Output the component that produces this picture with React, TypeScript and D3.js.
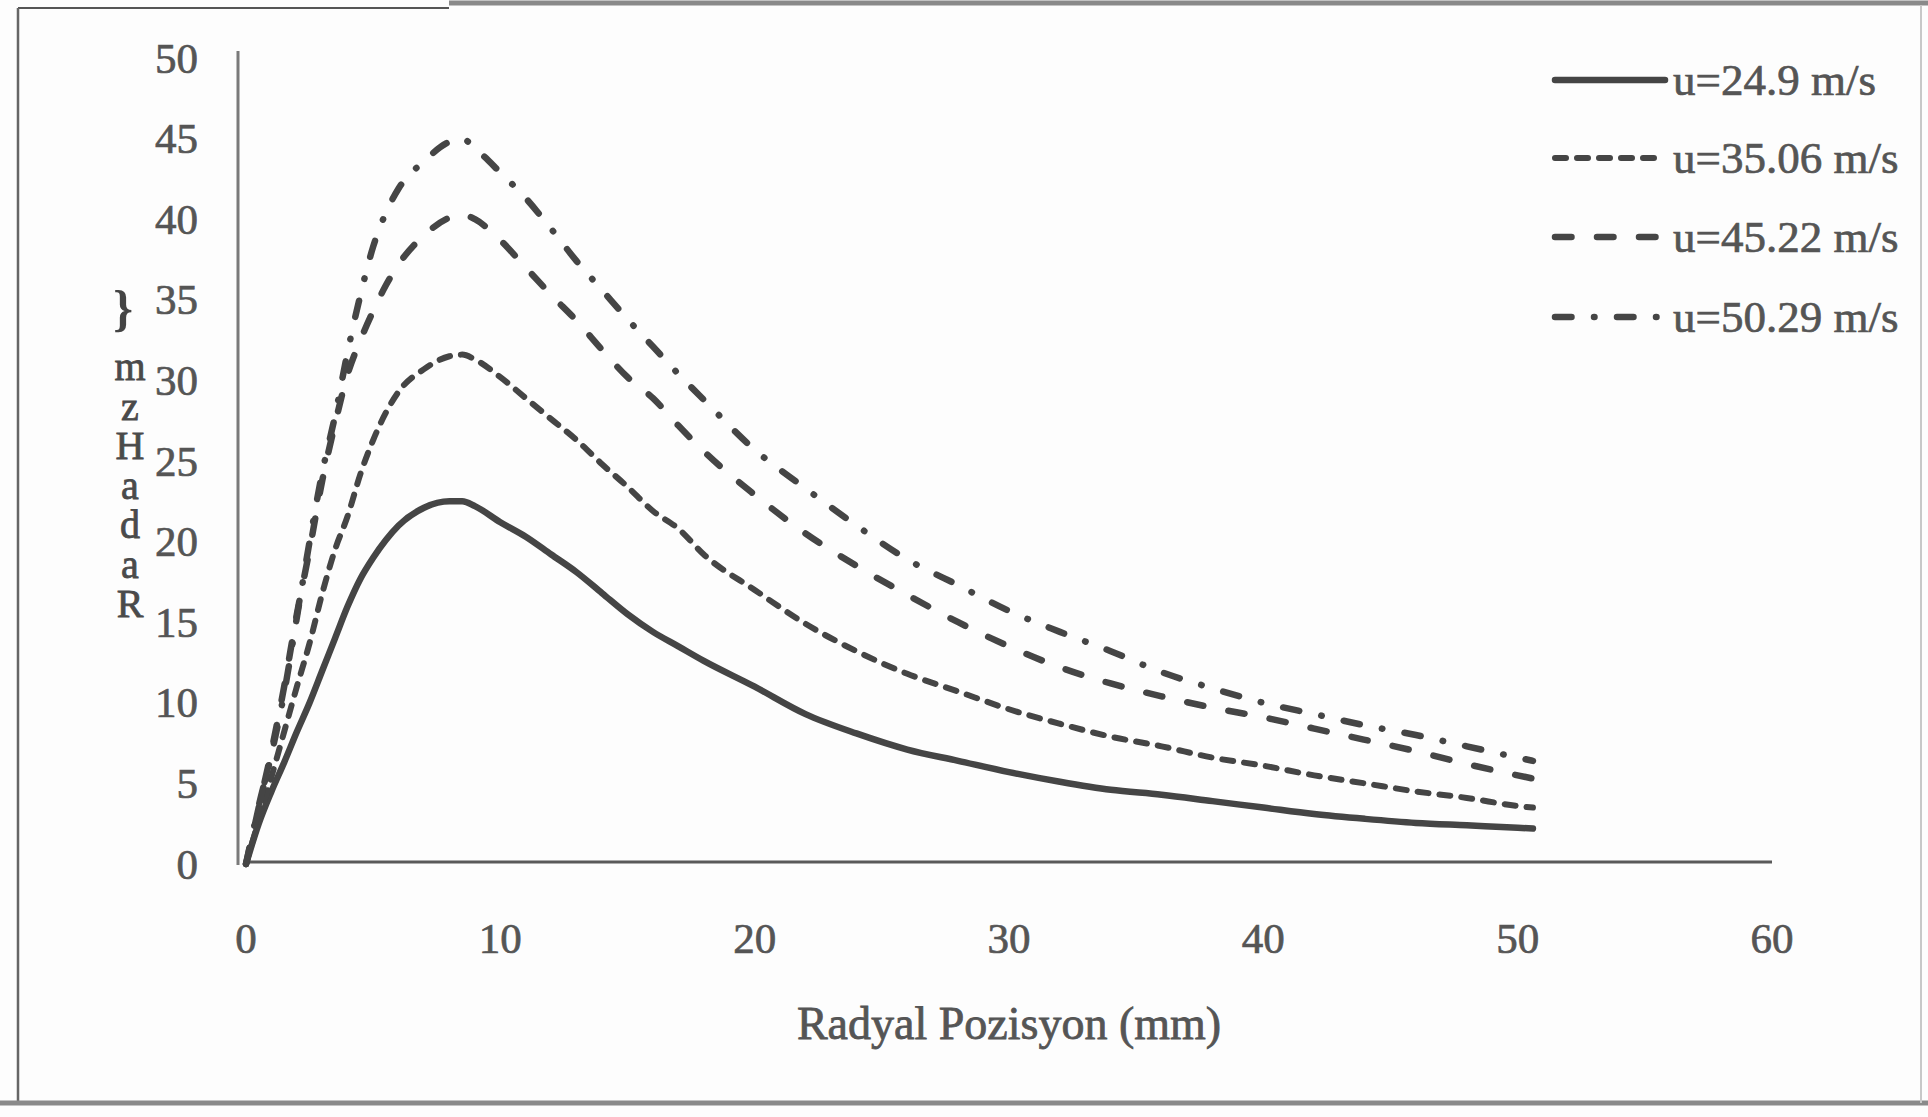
import React from "react";
import * as d3 from "d3";

// Radial position (mm) shared by every series
const radialPos = [0, 0.5, 1, 1.5, 2, 2.5, 3, 3.5, 4, 4.5, 5, 5.5, 6, 7, 8, 8.5, 9, 10, 11, 12, 13, 14, 15, 16, 17, 18, 20, 22, 24, 26, 28, 30, 32, 34, 36, 38, 40, 42, 44, 46, 48, 50, 50.6];

// Radial velocity (m/s) for each inlet velocity
const u249 = [0, 2.5, 4.5, 6.3, 8.2, 10.0, 12.0, 14.0, 16.0, 17.7, 19.0, 20.1, 21.0, 22.1, 22.5, 22.5, 22.2, 21.2, 20.3, 19.2, 18.1, 16.8, 15.5, 14.4, 13.5, 12.6, 11.0, 9.3, 8.1, 7.1, 6.4, 5.7, 5.1, 4.6, 4.3, 3.9, 3.5, 3.1, 2.8, 2.55, 2.4, 2.25, 2.2];
const u3506 = [0, 2.7, 5.4, 8.2, 11.0, 13.7, 16.8, 19.5, 21.6, 24.2, 26.3, 28.0, 29.3, 30.7, 31.5, 31.6, 31.3, 30.2, 28.9, 27.6, 26.3, 24.8, 23.4, 21.9, 20.8, 19.2, 17.0, 14.9, 13.2, 11.8, 10.7, 9.6, 8.7, 7.9, 7.3, 6.6, 6.1, 5.5, 5.0, 4.5, 4.1, 3.6, 3.5];
const u4522 = [0, 3.5, 7.0, 11.0, 15.5, 19.5, 23.8, 27.3, 30.4, 32.5, 34.3, 35.9, 37.2, 39.0, 40.1, 40.3, 40.0, 38.7, 37.0, 35.3, 33.7, 31.9, 30.2, 28.9, 27.2, 25.6, 22.9, 20.5, 18.5, 16.7, 15.0, 13.5, 12.2, 11.2, 10.4, 9.7, 9.1, 8.4, 7.7, 7.0, 6.2, 5.5, 5.3];
const u5029 = [0, 3.6, 6.8, 10.6, 15.3, 20.0, 24.3, 27.8, 31.8, 35.3, 38.3, 40.4, 41.9, 43.6, 44.8, 45.0, 44.4, 42.9, 41.3, 39.4, 37.4, 35.6, 33.8, 32.1, 30.4, 28.8, 25.7, 23.3, 21.0, 18.9, 17.3, 15.7, 14.4, 13.2, 11.9, 10.9, 10.0, 9.3, 8.6, 8.0, 7.3, 6.6, 6.4];

const seriesLabels = ["u=24.9 m/s", "u=35.06 m/s", "u=45.22 m/s", "u=50.29 m/s"];
const seriesValues = [u249, u3506, u4522, u5029];

const xTicks = [0, 10, 20, 30, 40, 50, 60];
const yTicks = [0, 5, 10, 15, 20, 25, 30, 35, 40, 45, 50];

const xTitle = "Radyal Pozisyon (mm)";
const yTitle = "mzHadaR";

const INK = "#454545";
const TEXT = "#555555";
const FONT = "'Liberation Serif', 'DejaVu Serif', serif";

// stroke styles: solid, short dashes, long dashes, dash-dot
const strokeStyles = [
  { width: 6.5, dash: "" },
  { width: 6, dash: "11 11" },
  { width: 6.5, dash: "16.5 25.5" },
  { width: 6.5, dash: "16.5 22.5 0.5 22.5" },
];

export default function App() {
  const W = 1928;
  const H = 1117;

  const x = d3.scaleLinear().domain([0, 60]).range([246, 1772]);
  const y = d3.scaleLinear().domain([0, 50]).range([864, 58]);

  const line = d3
    .line<number>()
    .x((_, i) => x(radialPos[i]))
    .y((d) => y(d))
    .curve(d3.curveMonotoneX);

  const legendX0 = 1555;
  const legendX1 = 1665;
  const legendRows = [80, 158, 237, 317];

  return (
    <svg
      width={W}
      height={H}
      viewBox={`0 0 ${W} ${H}`}
      style={{ position: "absolute", left: 0, top: 0, background: "#fdfdfd" }}
    >
      <rect x={0} y={0} width={W} height={H} fill="#fdfdfd" />

      {/* outer frame */}
      <line x1={18} y1={8} x2={449} y2={8} stroke="#555" strokeWidth={2} />
      <line x1={449} y1={3} x2={W} y2={3} stroke="#8a8a8a" strokeWidth={5} />
      <line x1={18} y1={8} x2={18} y2={1103} stroke="#666" strokeWidth={2.5} />
      <line x1={0} y1={1103} x2={W} y2={1103} stroke="#8a8a8a" strokeWidth={5} />
      <line x1={1921} y1={5} x2={1921} y2={1103} stroke="#c8c8c8" strokeWidth={2} />

      {/* axes */}
      <line x1={x(0) - 8} y1={51} x2={x(0) - 8} y2={y(0) + 1} stroke="#7a7a7a" strokeWidth={3} />
      <line x1={x(0)} y1={y(0) - 2} x2={x(60)} y2={y(0) - 2} stroke="#5a5a5a" strokeWidth={3} />

      {/* y tick labels */}
      {yTicks.map((t) => (
        <text
          key={`y${t}`}
          x={198}
          y={y(t)}
          textAnchor="end"
          dominantBaseline="central"
          fontFamily={FONT}
          fontSize={43}
          fill={TEXT}
          stroke={TEXT}
          strokeWidth={0.7}
        >
          {t}
        </text>
      ))}

      {/* x tick labels */}
      {xTicks.map((t) => (
        <text
          key={`x${t}`}
          x={x(t)}
          y={938}
          textAnchor="middle"
          dominantBaseline="central"
          fontFamily={FONT}
          fontSize={43}
          fill={TEXT}
          stroke={TEXT}
          strokeWidth={0.7}
        >
          {t}
        </text>
      ))}

      {/* x axis title */}
      <text
        x={x(30)}
        y={1023}
        textAnchor="middle"
        dominantBaseline="central"
        fontFamily={FONT}
        fontSize={46}
        fill={TEXT}
        stroke={TEXT}
        strokeWidth={0.8}
      >
        {xTitle}
      </text>

      {/* y axis title: bracket mark and upright stacked letters */}
      <text
        x={123}
        y={308}
        textAnchor="middle"
        dominantBaseline="central"
        fontFamily={FONT}
        fontSize={50}
        fontWeight="bold"
        fill="#444"
      >
        {"}"}
      </text>
      <text
        x={130}
        y={344}
        fontFamily={FONT}
        fontSize={40}
        fill="#4a4a4a"
        stroke="#4a4a4a"
        strokeWidth={0.8}
        letterSpacing={-5.5}
        style={{ writingMode: "vertical-rl", textOrientation: "upright" } as React.CSSProperties}
      >
        {yTitle}
      </text>

      {/* series */}
      {seriesValues.map((vals, i) => (
        <path
          key={`s${i}`}
          d={line(vals) || ""}
          fill="none"
          stroke={INK}
          strokeWidth={strokeStyles[i].width}
          strokeDasharray={strokeStyles[i].dash || undefined}
          strokeLinecap="round"
          strokeLinejoin="round"
        />
      ))}

      {/* legend */}
      {seriesLabels.map((lab, i) => (
        <g key={`l${i}`}>
          <line
            x1={legendX0}
            y1={legendRows[i]}
            x2={legendX1}
            y2={legendRows[i]}
            stroke={INK}
            strokeWidth={strokeStyles[i].width}
            strokeDasharray={strokeStyles[i].dash || undefined}
            strokeLinecap="round"
          />
          <text
            x={1673}
            y={legendRows[i]}
            dominantBaseline="central"
            fontFamily={FONT}
            fontSize={45}
            fill={TEXT}
            stroke={TEXT}
            strokeWidth={0.7}
          >
            {lab}
          </text>
        </g>
      ))}
    </svg>
  );
}
